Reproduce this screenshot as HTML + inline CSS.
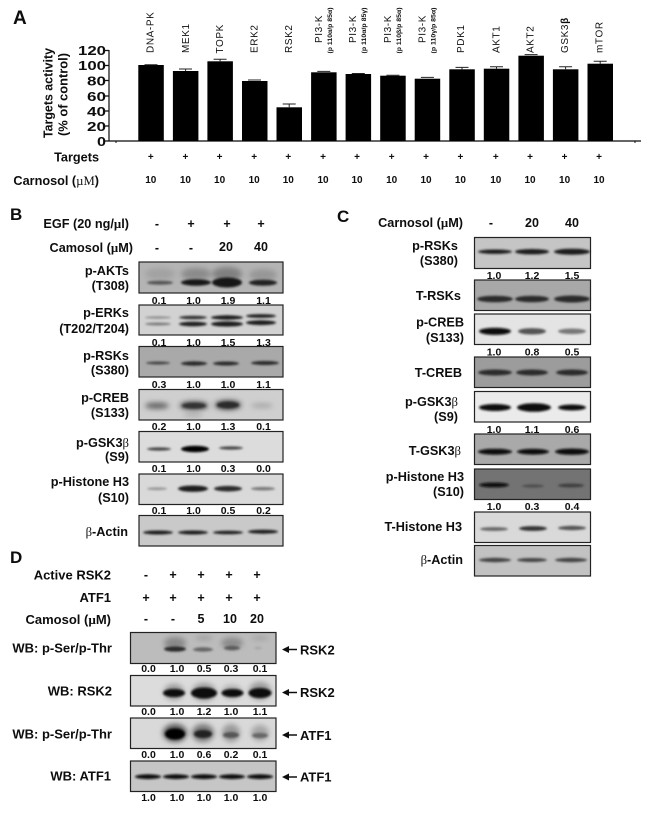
<!DOCTYPE html>
<html><head><meta charset="utf-8"><style>
html,body{margin:0;padding:0;background:#fff;width:650px;height:815px;overflow:hidden}
svg{display:block}
text{font-family:"Liberation Sans",sans-serif;font-weight:bold;fill:#111}
.l{font-size:12.7px;text-anchor:end}
.m{font-size:13px;text-anchor:end}
.h{font-size:12.5px;text-anchor:middle}
.q{font-size:10.5px;text-anchor:middle}
.t{font-size:10px;text-anchor:middle}
.r{font-size:10px;font-weight:normal;letter-spacing:.6px}
.s{font-size:6.5px}
.big{font-size:17px}
.a{font-size:13px}
.p{stroke:#222;stroke-width:1.2}
</style></head><body>
<svg width="650" height="815" viewBox="0 0 650 815" xmlns="http://www.w3.org/2000/svg">
<defs>
<filter id="b" x="-30%" y="-150%" width="160%" height="400%"><feGaussianBlur stdDeviation="1.15"/></filter>
<filter id="c" x="-40%" y="-150%" width="180%" height="400%"><feGaussianBlur stdDeviation="2.6"/></filter>
<filter id="x" x="-5%" y="-20%" width="110%" height="140%"><feGaussianBlur stdDeviation=".35"/></filter>
</defs>

<!-- Panel A -->
<g filter="url(#x)">
<text x="13" y="24" font-size="19">A</text>
<text class="r" transform="translate(153.5,53) rotate(-90)">DNA-PK</text>
<text class="r" transform="translate(189,53) rotate(-90)">MEK1</text>
<text class="r" transform="translate(223.1,53.5) rotate(-90)">TOPK</text>
<text class="r" transform="translate(257.5,53) rotate(-90)">ERK2</text>
<text class="r" transform="translate(291.8,53) rotate(-90)">RSK2</text>
<text class="r" transform="translate(322,43) rotate(-90)">PI3-K</text>
<text class="s" textLength="46" lengthAdjust="spacingAndGlyphs" transform="translate(332,53.5) rotate(-90)">(p 110α/p 85α)</text>
<text class="r" transform="translate(356,43) rotate(-90)">PI3-K</text>
<text class="s" textLength="46" lengthAdjust="spacingAndGlyphs" transform="translate(366,53.5) rotate(-90)">(p 110α/p 85γ)</text>
<text class="r" transform="translate(391,43) rotate(-90)">PI3-K</text>
<text class="s" textLength="46" lengthAdjust="spacingAndGlyphs" transform="translate(401,53.5) rotate(-90)">(p 110β/p 85α)</text>
<text class="r" transform="translate(425.5,43) rotate(-90)">PI3-K</text>
<text class="s" textLength="46" lengthAdjust="spacingAndGlyphs" transform="translate(435.5,53.5) rotate(-90)">(p 110γ/p 85α)</text>
<text class="r" transform="translate(464,53) rotate(-90)">PDK1</text>
<text class="r" transform="translate(499.3,53) rotate(-90)">AKT1</text>
<text class="r" transform="translate(533.5,53) rotate(-90)">AKT2</text>
<text class="r" transform="translate(568,53) rotate(-90)">GSK3<tspan font-weight="bold">β</tspan></text>
<text class="r" transform="translate(602.5,53) rotate(-90)">mTOR</text>
<text transform="translate(52.7,93) rotate(-90)" text-anchor="middle" font-size="12.5" textLength="90" lengthAdjust="spacingAndGlyphs">Targets activity</text>
<text transform="translate(67.5,94.5) rotate(-90)" text-anchor="middle" font-size="12.5" textLength="83" lengthAdjust="spacingAndGlyphs">(% of control)</text>
<text x="78" y="55" font-size="13" textLength="28" lengthAdjust="spacingAndGlyphs">120</text>
<text x="78" y="70" font-size="13" textLength="28" lengthAdjust="spacingAndGlyphs">100</text>
<text x="87" y="85.5" font-size="13" textLength="19" lengthAdjust="spacingAndGlyphs">80</text>
<text x="87" y="101" font-size="13" textLength="19" lengthAdjust="spacingAndGlyphs">60</text>
<text x="87" y="116" font-size="13" textLength="19" lengthAdjust="spacingAndGlyphs">40</text>
<text x="87" y="131" font-size="13" textLength="19" lengthAdjust="spacingAndGlyphs">20</text>
<text x="97" y="146" font-size="13" textLength="9" lengthAdjust="spacingAndGlyphs">0</text>
<path d="M109 50V141M103 50.5h6M103 65.5h6M103 80.5h6M103 96h6M103 111h6M103 126h6M104 141H641" stroke="#111" stroke-width="1.2" fill="none"/>
<path d="M116 141v2M635 141v2" stroke="#111"/>
<!-- bars -->
<g fill="#000">
<rect x="138.3" y="65" width="25.5" height="76"/>
<rect x="172.9" y="71" width="25.5" height="70"/>
<rect x="207.4" y="61.3" width="25.5" height="79.7"/>
<rect x="242" y="81" width="25.5" height="60"/>
<rect x="276.5" y="107.3" width="25.5" height="33.7"/>
<rect x="311.1" y="72.3" width="25.5" height="68.7"/>
<rect x="345.6" y="74" width="25.5" height="67"/>
<rect x="380.2" y="75.7" width="25.5" height="65.3"/>
<rect x="414.7" y="78.7" width="25.5" height="62.3"/>
<rect x="449.3" y="69.3" width="25.5" height="71.7"/>
<rect x="483.8" y="68.7" width="25.5" height="72.3"/>
<rect x="518.4" y="55.7" width="25.5" height="85.3"/>
<rect x="552.9" y="69.3" width="25.5" height="71.7"/>
<rect x="587.5" y="63.7" width="25.5" height="77.3"/>
</g>
<path d="M144.5 64.7h13M179 69h13M185.6 69v2M213.6 59.3h13M220.1 59.3v2M248 80h13M282.7 104h13M289.2 104v3.3M317.3 71.4h13M351.8 73.5h13M386.4 75.2h13M420.9 77.4h13M455.5 67.4h13M462 67.4v2M490 66.8h13M496.5 66.8v2M524.6 54.6h13M559.1 66.8h13M565.6 66.8v2.5M593.7 61.2h13M600.2 61.2v2.5" stroke="#222" stroke-width="1" fill="none"/>
<text x="99" y="161.5" class="l">Targets</text>
<text x="99" y="185" class="l">Carnosol (<tspan font-family="Liberation Serif" font-weight="normal">µM</tspan>)</text>
<g>
<text class="t" x="150.8" y="160">+</text><text class="t" x="185.4" y="160">+</text><text class="t" x="219.6" y="160">+</text><text class="t" x="254.2" y="160">+</text><text class="t" x="288.3" y="160">+</text><text class="t" x="323" y="160">+</text><text class="t" x="357" y="160">+</text><text class="t" x="391.7" y="160">+</text><text class="t" x="426" y="160">+</text><text class="t" x="460.4" y="160">+</text><text class="t" x="495.8" y="160">+</text><text class="t" x="530" y="160">+</text><text class="t" x="564.6" y="160">+</text><text class="t" x="599" y="160">+</text>
<text class="t" x="150.8" y="183">10</text><text class="t" x="185.4" y="183">10</text><text class="t" x="219.6" y="183">10</text><text class="t" x="254.2" y="183">10</text><text class="t" x="288.3" y="183">10</text><text class="t" x="323" y="183">10</text><text class="t" x="357" y="183">10</text><text class="t" x="391.7" y="183">10</text><text class="t" x="426" y="183">10</text><text class="t" x="460.4" y="183">10</text><text class="t" x="495.8" y="183">10</text><text class="t" x="530" y="183">10</text><text class="t" x="564.6" y="183">10</text><text class="t" x="599" y="183">10</text>
</g>
</g>

<!-- Panel B text -->
<g filter="url(#x)">
<text x="10" y="220" class="big">B</text>
<text x="129" y="228" class="l">EGF (20 ng/<tspan font-family="Liberation Serif">µ</tspan>l)</text>
<text x="133" y="252" class="l">Camosol (<tspan font-family="Liberation Serif">µ</tspan>M)</text>
<text class="h" x="157" y="228">-</text><text class="h" x="191" y="228">+</text><text class="h" x="227" y="228">+</text><text class="h" x="261" y="228">+</text>
<text class="h" x="157" y="252">-</text><text class="h" x="191" y="252">-</text><text class="h" x="226" y="251">20</text><text class="h" x="261" y="251">40</text>
<text x="129" y="275" class="l">p-AKTs</text><text x="129" y="290" class="l">(T308)</text>
<text x="129" y="317" class="l">p-ERKs</text><text x="129" y="333" class="l">(T202/T204)</text>
<text x="129" y="360" class="l">p-RSKs</text><text x="129" y="374.5" class="l">(S380)</text>
<text x="129" y="402" class="l">p-CREB</text><text x="129" y="417" class="l">(S133)</text>
<text x="129" y="447" class="l">p-GSK3<tspan font-family="Liberation Serif" font-weight="normal">β</tspan></text><text x="129" y="461" class="l">(S9)</text>
<text x="129" y="486" class="l">p-Histone H3</text><text x="129" y="502" class="l">(S10)</text>
<text x="128" y="536" class="l"><tspan font-family="Liberation Serif" font-weight="normal">β</tspan>-Actin</text>
<text class="q" x="159" y="304">0.1</text><text class="q" x="193.5" y="304">1.0</text><text class="q" x="228" y="304">1.9</text><text class="q" x="263.5" y="304">1.1</text>
<text class="q" x="159" y="346">0.1</text><text class="q" x="193.5" y="346">1.0</text><text class="q" x="228" y="346">1.5</text><text class="q" x="263.5" y="346">1.3</text>
<text class="q" x="159" y="388">0.3</text><text class="q" x="193.5" y="388">1.0</text><text class="q" x="228" y="388">1.0</text><text class="q" x="263.5" y="388">1.1</text>
<text class="q" x="159" y="430">0.2</text><text class="q" x="193.5" y="430">1.0</text><text class="q" x="228" y="430">1.3</text><text class="q" x="263.5" y="430">0.1</text>
<text class="q" x="159" y="472">0.1</text><text class="q" x="193.5" y="472">1.0</text><text class="q" x="228" y="472">0.3</text><text class="q" x="263.5" y="472">0.0</text>
<text class="q" x="159" y="514">0.1</text><text class="q" x="193.5" y="514">1.0</text><text class="q" x="228" y="514">0.5</text><text class="q" x="263.5" y="514">0.2</text>
</g>

<!-- Panel B blots -->
<rect class="p" x="139" y="262" width="144" height="31" fill="#b4b4b4"/>
<g filter="url(#c)"><ellipse cx="160" cy="274" rx="15" ry="6" fill="#a2a2a2"/><ellipse cx="196" cy="274" rx="15" ry="6" fill="#8a8a8a"/><ellipse cx="227" cy="274" rx="15" ry="7" fill="#808080"/><ellipse cx="263" cy="275" rx="14" ry="6" fill="#969696"/></g>
<g filter="url(#b)" fill="#151515"><ellipse cx="160" cy="282.7" rx="13" ry="2" fill="#555"/><ellipse cx="196" cy="282.5" rx="15" ry="3.2"/><ellipse cx="227" cy="282.5" rx="15" ry="5"/><ellipse cx="263" cy="282.7" rx="14" ry="3" fill="#222"/></g>

<rect class="p" x="139" y="305" width="144" height="30" fill="#d2d2d2"/>
<g filter="url(#b)" fill="#1a1a1a"><ellipse cx="158" cy="317.5" rx="13" ry="1.2" fill="#909090"/><ellipse cx="158" cy="324" rx="13" ry="1.4" fill="#777"/><ellipse cx="193" cy="317.5" rx="14" ry="1.7" fill="#333"/><ellipse cx="193" cy="324" rx="14" ry="2.3"/><ellipse cx="227" cy="317.5" rx="16" ry="2.2"/><ellipse cx="227" cy="324" rx="16" ry="2.6"/><ellipse cx="261" cy="316" rx="15" ry="1.9" fill="#222"/><ellipse cx="261" cy="322.7" rx="15" ry="2.4"/></g>

<rect class="p" x="139" y="346.5" width="144" height="30.5" fill="#a9a9a9"/>
<g filter="url(#b)" fill="#2a2a2a"><ellipse cx="158" cy="363" rx="12" ry="1.5" fill="#444"/><ellipse cx="194" cy="363.5" rx="13" ry="2.2"/><ellipse cx="226" cy="363.5" rx="13" ry="2"/><ellipse cx="265" cy="363" rx="14" ry="2"/></g>

<rect class="p" x="139" y="389.5" width="144" height="30.5" fill="#cfcfcf"/>
<g filter="url(#c)"><ellipse cx="157" cy="405.7" rx="12" ry="3" fill="#5a5a5a"/><ellipse cx="194" cy="405.7" rx="14" ry="4" fill="#333"/><ellipse cx="228" cy="405" rx="13" ry="4.5" fill="#333"/><ellipse cx="262" cy="405.7" rx="11" ry="1.8" fill="#999"/><ellipse cx="193" cy="415" rx="10" ry="2" fill="#aaa"/></g>
<g filter="url(#b)"><ellipse cx="194" cy="405.7" rx="12" ry="2.5" fill="#333"/><ellipse cx="228" cy="405" rx="11" ry="3" fill="#2a2a2a"/></g>

<rect class="p" x="139" y="431.5" width="144" height="30.5" fill="#dcdcdc"/>
<g filter="url(#b)"><ellipse cx="159" cy="449" rx="12" ry="1.6" fill="#444"/><ellipse cx="195" cy="449" rx="14" ry="3.2" fill="#000"/><ellipse cx="231" cy="448" rx="12" ry="1.6" fill="#444"/></g>

<rect class="p" x="139" y="474" width="144" height="30.5" fill="#d9d9d9"/>
<g filter="url(#b)"><ellipse cx="157" cy="488.7" rx="10" ry="1.5" fill="#999"/><ellipse cx="193" cy="488.7" rx="15" ry="3.2" fill="#1c1c1c"/><ellipse cx="228" cy="488.7" rx="14" ry="2.8" fill="#2a2a2a"/><ellipse cx="263" cy="488.7" rx="12" ry="1.7" fill="#777"/></g>

<rect class="p" x="139" y="515.5" width="144" height="30.5" fill="#c9c9c9"/>
<g filter="url(#b)" fill="#1e1e1e"><ellipse cx="158" cy="532.5" rx="15" ry="2"/><ellipse cx="193" cy="532.5" rx="15" ry="2"/><ellipse cx="228" cy="532.5" rx="15" ry="1.8"/><ellipse cx="263" cy="531.7" rx="15" ry="2"/></g>

<!-- Panel C text -->
<g filter="url(#x)">
<text x="337" y="222" class="big">C</text>
<text x="463" y="227" class="l">Carnosol (<tspan font-family="Liberation Serif">µ</tspan>M)</text>
<text class="h" x="491" y="227">-</text><text class="h" x="532" y="227">20</text><text class="h" x="572" y="227">40</text>
<text x="458" y="250" class="l">p-RSKs</text><text x="458" y="265" class="l">(S380)</text>
<text x="461" y="300" class="l">T-RSKs</text>
<text x="464" y="326.5" class="l">p-CREB</text><text x="464" y="342" class="l">(S133)</text>
<text x="462" y="377" class="l">T-CREB</text>
<text x="458" y="406" class="l">p-GSK3<tspan font-family="Liberation Serif" font-weight="normal">β</tspan></text><text x="458" y="421" class="l">(S9)</text>
<text x="461" y="455" class="l">T-GSK3<tspan font-family="Liberation Serif" font-weight="normal">β</tspan></text>
<text x="464" y="481" class="l">p-Histone H3</text><text x="464" y="496" class="l">(S10)</text>
<text x="462" y="531" class="l">T-Histone H3</text>
<text x="463" y="564" class="l"><tspan font-family="Liberation Serif" font-weight="normal">β</tspan>-Actin</text>
<text class="q" x="494" y="279">1.0</text><text class="q" x="532" y="279">1.2</text><text class="q" x="572" y="279">1.5</text>
<text class="q" x="494" y="355.5">1.0</text><text class="q" x="532" y="355.5">0.8</text><text class="q" x="572" y="355.5">0.5</text>
<text class="q" x="494" y="433">1.0</text><text class="q" x="532" y="433">1.1</text><text class="q" x="572" y="433">0.6</text>
<text class="q" x="494" y="510">1.0</text><text class="q" x="532" y="510">0.3</text><text class="q" x="572" y="510">0.4</text>
</g>

<!-- Panel C blots -->
<rect class="p" x="474.5" y="237.5" width="116" height="31" fill="#c5c5c5"/>
<g filter="url(#b)" fill="#1a1a1a"><ellipse cx="495" cy="251.7" rx="17" ry="2.2"/><ellipse cx="532" cy="251.7" rx="17" ry="2.7"/><ellipse cx="572" cy="251.7" rx="18" ry="3"/></g>
<rect class="p" x="474.5" y="280" width="116" height="30.5" fill="#a8a8a8"/>
<g filter="url(#b)" fill="#2a2a2a"><ellipse cx="495" cy="299" rx="18" ry="3.3"/><ellipse cx="532" cy="299" rx="17" ry="3.3"/><ellipse cx="572" cy="299" rx="18" ry="3.5"/></g>
<rect class="p" x="474.5" y="314" width="116" height="30.5" fill="#e4e4e4"/>
<g filter="url(#b)"><ellipse cx="495" cy="331.3" rx="16" ry="3.6" fill="#111"/><ellipse cx="532" cy="331.3" rx="14" ry="3.2" fill="#555"/><ellipse cx="572" cy="331.3" rx="14" ry="2.8" fill="#777"/></g>
<rect class="p" x="474.5" y="357" width="116" height="30.5" fill="#9c9c9c"/>
<g filter="url(#b)" fill="#2a2a2a"><ellipse cx="495" cy="372.5" rx="17" ry="3"/><ellipse cx="532" cy="372.5" rx="16" ry="3"/><ellipse cx="572" cy="372.5" rx="16" ry="3"/></g>
<rect class="p" x="474.5" y="391.5" width="116" height="30.5" fill="#ebebeb"/>
<g filter="url(#b)" fill="#0f0f0f"><ellipse cx="495" cy="407.5" rx="16" ry="3.5"/><ellipse cx="534" cy="407.5" rx="17" ry="4.3"/><ellipse cx="572" cy="407.5" rx="14" ry="3"/></g>
<rect class="p" x="474.5" y="434" width="116" height="30.5" fill="#a9a9a9"/>
<g filter="url(#b)" fill="#111"><ellipse cx="495" cy="451.7" rx="17" ry="3"/><ellipse cx="533" cy="451.7" rx="16" ry="2.9"/><ellipse cx="572" cy="451.7" rx="17" ry="3.2"/></g>
<rect class="p" x="474.5" y="469" width="116" height="30.5" fill="#737373"/>
<g filter="url(#b)"><ellipse cx="494" cy="485" rx="15" ry="2.4" fill="#0a0a0a"/><ellipse cx="533" cy="486" rx="11" ry="1.6" fill="#4d4d4d"/><ellipse cx="571" cy="485.5" rx="13" ry="1.9" fill="#3c3c3c"/></g>
<rect class="p" x="474.5" y="512" width="116" height="30.5" fill="#d9d9d9"/>
<g filter="url(#b)"><ellipse cx="494" cy="529" rx="14" ry="1.9" fill="#666"/><ellipse cx="533" cy="528.5" rx="14" ry="2.4" fill="#333"/><ellipse cx="572" cy="528" rx="14" ry="2.2" fill="#555"/></g>
<rect class="p" x="474.5" y="545.5" width="116" height="30.5" fill="#c2c2c2"/>
<g filter="url(#b)" fill="#444"><ellipse cx="495" cy="560" rx="16" ry="2.2"/><ellipse cx="532" cy="560" rx="15" ry="2"/><ellipse cx="571" cy="560" rx="16" ry="2.2"/></g>

<!-- Panel D text -->
<g filter="url(#x)">
<text x="10" y="563" class="big">D</text>
<text x="111" y="579.5" class="m">Active RSK2</text>
<text x="111" y="602" class="m">ATF1</text>
<text x="111" y="624" class="m">Camosol (<tspan font-family="Liberation Serif">µ</tspan>M)</text>
<text class="h" x="146" y="579">-</text><text class="h" x="173" y="579">+</text><text class="h" x="201" y="579">+</text><text class="h" x="229" y="579">+</text><text class="h" x="257" y="579">+</text>
<text class="h" x="146" y="602">+</text><text class="h" x="173" y="602">+</text><text class="h" x="201" y="602">+</text><text class="h" x="229" y="602">+</text><text class="h" x="257" y="602">+</text>
<text class="h" x="146" y="623">-</text><text class="h" x="173" y="623">-</text><text class="h" x="201" y="623">5</text><text class="h" x="230" y="623">10</text><text class="h" x="257" y="623">20</text>
<text x="112" y="652.5" class="m">WB: p-Ser/p-Thr</text>
<text x="112" y="695.5" class="m">WB: RSK2</text>
<text x="112" y="738.5" class="m">WB: p-Ser/p-Thr</text>
<text x="111" y="780.5" class="m">WB: ATF1</text>
<text class="q" x="148.5" y="672">0.0</text><text class="q" x="177" y="672">1.0</text><text class="q" x="204" y="672">0.5</text><text class="q" x="231" y="672">0.3</text><text class="q" x="260" y="672">0.1</text>
<text class="q" x="148.5" y="715">0.0</text><text class="q" x="177" y="715">1.0</text><text class="q" x="204" y="715">1.2</text><text class="q" x="231" y="715">1.0</text><text class="q" x="260" y="715">1.1</text>
<text class="q" x="148.5" y="758">0.0</text><text class="q" x="177" y="758">1.0</text><text class="q" x="204" y="758">0.6</text><text class="q" x="231" y="758">0.2</text><text class="q" x="260" y="758">0.1</text>
<text class="q" x="148.5" y="801">1.0</text><text class="q" x="177" y="801">1.0</text><text class="q" x="204" y="801">1.0</text><text class="q" x="231" y="801">1.0</text><text class="q" x="260" y="801">1.0</text>
<text x="300" y="654.5" class="a">RSK2</text>
<text x="300" y="697" class="a">RSK2</text>
<text x="300" y="740" class="a">ATF1</text>
<text x="300" y="781.5" class="a">ATF1</text>
<path d="M282 649.5l7-3.5v2.7h8v1.6h-8v2.7zM282 692.5l7-3.5v2.7h8v1.6h-8v2.7zM282 735l7-3.5v2.7h8v1.6h-8v2.7zM282 777l7-3.5v2.7h8v1.6h-8v2.7z" fill="#111"/>
</g>

<!-- Panel D blots -->
<rect class="p" x="130.5" y="632.5" width="145.5" height="31" fill="#bcbcbc"/>
<g filter="url(#c)"><ellipse cx="175" cy="643" rx="11" ry="6" fill="#888"/><ellipse cx="232" cy="643" rx="11" ry="5.5" fill="#8c8c8c"/><ellipse cx="204" cy="638" rx="9" ry="1.5" fill="#8f8f8f"/><ellipse cx="260" cy="638" rx="9" ry="1.2" fill="#8f8f8f"/></g>
<g filter="url(#b)"><ellipse cx="175" cy="649" rx="11" ry="2.6" fill="#2a2a2a"/><ellipse cx="203" cy="649.5" rx="10" ry="2.2" fill="#666"/><ellipse cx="232" cy="648" rx="8" ry="2.2" fill="#5a5a5a"/><ellipse cx="258" cy="648" rx="4" ry="1.2" fill="#a5a5a5"/></g>
<rect class="p" x="130.5" y="675.5" width="145.5" height="30.5" fill="#dcdcdc"/>
<g filter="url(#c)"><ellipse cx="174" cy="692" rx="10" ry="8" fill="#999"/><ellipse cx="204" cy="692" rx="12" ry="9" fill="#999"/><ellipse cx="232" cy="692" rx="10" ry="7" fill="#aaa"/><ellipse cx="260" cy="691" rx="11" ry="9" fill="#999"/></g>
<g filter="url(#b)" fill="#080808"><ellipse cx="174" cy="693" rx="11" ry="4"/><ellipse cx="204" cy="693" rx="13" ry="5.5"/><ellipse cx="232.5" cy="693" rx="11" ry="4"/><ellipse cx="260" cy="693" rx="11.5" ry="5"/></g>
<rect class="p" x="130.5" y="718" width="145.5" height="30.5" fill="#d9d9d9"/>
<g filter="url(#c)"><ellipse cx="175" cy="733" rx="12" ry="9" fill="#555"/><ellipse cx="203" cy="733" rx="11" ry="9" fill="#777"/><ellipse cx="231" cy="733" rx="9" ry="9" fill="#999"/><ellipse cx="260" cy="733" rx="9" ry="8" fill="#a5a5a5"/></g>
<g filter="url(#b)"><ellipse cx="175" cy="734" rx="10" ry="5.5" fill="#000"/><ellipse cx="203" cy="734" rx="9" ry="4" fill="#222"/><ellipse cx="231" cy="735" rx="8" ry="3" fill="#555"/><ellipse cx="260" cy="735.5" rx="8" ry="2.6" fill="#666"/></g>
<rect class="p" x="130.5" y="761" width="145.5" height="30.5" fill="#c6c6c6"/>
<g filter="url(#b)" fill="#0f0f0f"><ellipse cx="148" cy="776.7" rx="13" ry="2.4"/><ellipse cx="176" cy="776.7" rx="13" ry="2.4"/><ellipse cx="204" cy="776.7" rx="13" ry="2.4"/><ellipse cx="232" cy="776.7" rx="13" ry="2.4"/><ellipse cx="260" cy="776.7" rx="13" ry="2.4"/></g>
</svg>
</body></html>
